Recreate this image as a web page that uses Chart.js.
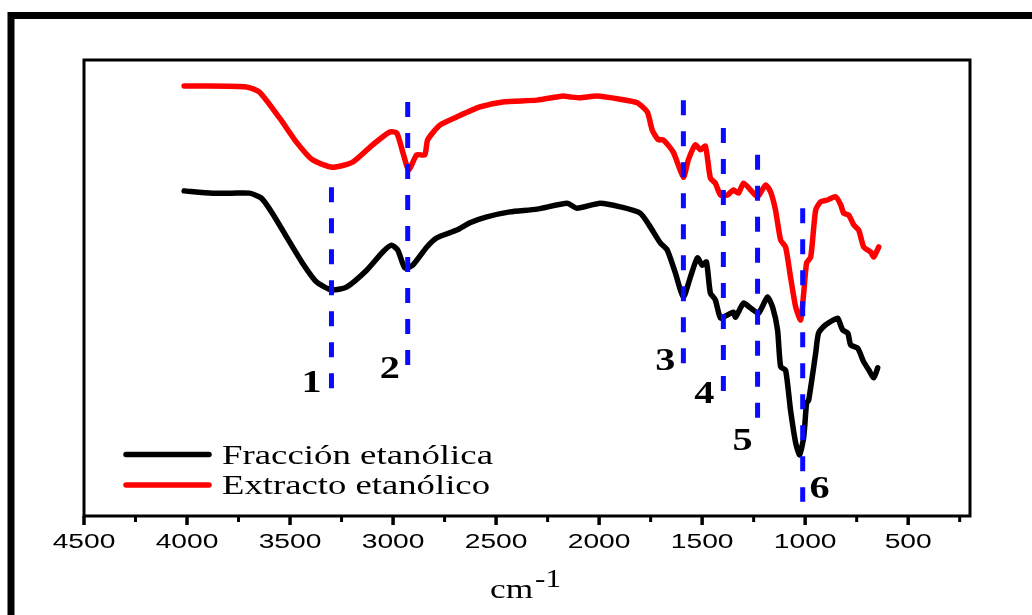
<!DOCTYPE html>
<html><head><meta charset="utf-8">
<script src="https://cdn.jsdelivr.net/npm/chart.js@4.4.0/dist/chart.umd.min.js"></script>
<style>html,body{margin:0;padding:0;background:#fff;overflow:hidden}#wrap{width:1032px;height:615px;}</style>
</head><body><div id="wrap"><canvas id="c" width="1032" height="615"></canvas></div>
<script>
// ---- data (wavenumber cm-1, transmittance a.u.) ----
const seriesNames = ['Fracción etanólica', 'Extracto etanólico'];
const fraccionWn = [4014,3877,3780,3697,3639,3586,3517,3440,3371,3299,3226,3128,3050,3007,2977,2943,2905,2836,2788,2691,2627,2545,2433,2301,2155,2107,1995,1898,1800,1752,1703,1669,1630,1591,1557,1523,1499,1479,1460,1436,1411,1377,1348,1338,1299,1265,1226,1183,1158,1134,1119,1095,1071,1046,1027,1007,993,983,949,935,901,862,842,818,793,779,745,716,691,667,648];
const fraccionT = [71.3,70.8,70.8,70.8,69.7,66.4,61.2,55.5,51.3,49.6,50.2,53.9,57.9,59.4,58.3,54.4,55.0,59.0,61.0,62.7,64.3,65.6,66.7,67.3,68.6,67.5,68.6,67.8,66.4,63.4,59.9,58.3,53.3,48.0,52.4,56.6,55.0,55.7,48.9,47.4,43.4,44.1,44.7,43.6,46.7,45.6,44.5,48.0,45.8,40.8,32.7,32.0,23.2,16.0,13.4,17.3,24.8,25.4,35.7,40.1,41.9,43.0,43.4,40.8,40.1,37.5,36.8,33.8,32.0,30.3,32.5];
const extractoWn = [4014,3941,3712,3649,3551,3469,3391,3294,3196,3099,3016,2982,2953,2924,2885,2846,2832,2773,2691,2579,2467,2301,2175,2141,2092,2010,1898,1815,1766,1742,1713,1689,1640,1591,1567,1533,1508,1484,1460,1436,1411,1377,1348,1324,1299,1265,1231,1192,1168,1144,1119,1095,1071,1046,1022,1007,993,973,949,925,891,852,827,813,789,764,740,716,682,667,643];
const extractoT = [94.3,94.3,94.1,93.0,87.3,82.0,78.1,76.5,77.6,81.4,84.2,84.0,79.8,75.9,79.2,79.2,82.5,85.7,87.5,89.7,90.8,91.2,92.1,91.9,91.7,92.1,91.4,90.6,88.6,84.6,82.5,82.5,79.8,74.3,78.1,81.4,80.3,81.1,74.1,73.0,70.4,70.4,71.5,70.8,73.0,71.5,70.0,72.6,71.1,67.1,60.5,59.0,52.4,45.8,43.0,48.9,55.5,56.8,67.1,68.9,69.3,70.0,68.2,66.4,66.0,63.8,62.7,59.0,57.9,56.8,59.0];
// marked bands (dashed guides)
const peakLabels = ['1','2','3','4','5','6'];
const peakWn = [3299, 2929, 1591, 1397, 1231, 1012];
const peakTop = [72.1, 90.8, 91.2, 85.1, 79.2, 67.5];
const peakBottom = [26.1, 30.9, 32.0, 25.9, 20.0, 3.1];
const labelWn = [3396, 3016, 1679, 1489, 1304, 930];
const labelT = [27.2, 30.3, 32.0, 24.8, 14.5, 3.9];
// axis
const xMajorTicks = [4500,4000,3500,3000,2500,2000,1500,1000,500];
const xMinorTicks = [4250,3750,3250,2750,2250,1750,1250,750,250];
const axisTitle = 'cm';
const axisTitleSup = '-1';
const xMin = 200, xMax = 4500, yMin = 0, yMax = 100;

const pts = (xs, ys) => xs.map((x, i) => ({x: x, y: ys[i]}));

const guideSets = peakWn.map((w, i) => ({
  label: 'band ' + peakLabels[i],
  data: [{x: w, y: peakTop[i]}, {x: w, y: peakBottom[i]}],
  borderColor: '#0a0aff', borderWidth: 5, borderDash: [15, 16], borderCapStyle: 'butt',
  pointRadius: 0, fill: false, tension: 0, order: 0
}));

function stretchText(ctx, txt, x, y, font, sx, align) {
  ctx.save();
  ctx.font = font; ctx.textBaseline = 'alphabetic'; ctx.textAlign = 'left';
  const w = ctx.measureText(txt).width * sx;
  const left = align === 'center' ? x - w / 2 : (align === 'right' ? x - w : x);
  ctx.translate(left, y); ctx.scale(sx, 1);
  ctx.fillText(txt, 0, 0);
  ctx.restore();
  return w;
}
function fitText(ctx, txt, x, y, font, targetW) {
  ctx.save(); ctx.font = font;
  const sx = targetW / ctx.measureText(txt).width;
  ctx.restore();
  return stretchText(ctx, txt, x, y, font, sx, 'left');
}

const decor = {
  id: 'decor',
  beforeDraw(chart) {
    const ctx = chart.ctx;
    ctx.save();
    ctx.fillStyle = '#ffffff';
    ctx.fillRect(0, 0, chart.width, chart.height);
    ctx.restore();
  },
  afterDatasetsDraw(chart) {
    const ctx = chart.ctx, a = chart.chartArea;
    const xs = chart.scales.x, ys = chart.scales.y;
    ctx.save();
    // outer frame
    ctx.strokeStyle = '#000'; ctx.lineWidth = 7;
    ctx.strokeRect(11, 15.5, 1200, 800);
    // plot box
    ctx.lineWidth = 3;
    ctx.strokeRect(a.left, a.top, a.right - a.left, a.bottom - a.top);
    // ticks
    ctx.lineWidth = 3.5;
    xMajorTicks.forEach(v => {
      const px = xs.getPixelForValue(v);
      ctx.beginPath(); ctx.moveTo(px, a.bottom); ctx.lineTo(px, a.bottom + 9); ctx.stroke();
    });
    ctx.lineWidth = 3;
    xMinorTicks.forEach(v => {
      const px = xs.getPixelForValue(v);
      ctx.beginPath(); ctx.moveTo(px, a.bottom); ctx.lineTo(px, a.bottom + 6); ctx.stroke();
    });
    // tick labels
    ctx.fillStyle = '#000';
    xMajorTicks.forEach(v => {
      const px = xs.getPixelForValue(v);
      stretchText(ctx, String(v), px, a.bottom + 32, '20px "Liberation Sans", Arial, sans-serif', 1.41, 'center');
    });
    // axis title
    const serif = '"Liberation Serif", "Times New Roman", serif';
    const cx = (a.left + a.right) / 2;
    const wcm = stretchText(ctx, axisTitle, cx - 37, a.bottom + 82, '28px ' + serif, 1.26, 'left');
    stretchText(ctx, axisTitleSup, cx - 37 + wcm + 2, a.bottom + 71, '26px ' + serif, 1.2, 'left');
    // legend
    const legColors = ['#000000', '#ff0000'];
    const legY = [454.5, 485];
    const legBase = [463.5, 493.5];
    const legW = [271, 268];
    seriesNames.forEach((n, i) => {
      ctx.strokeStyle = legColors[i]; ctx.lineWidth = 5.5; ctx.lineCap = 'round';
      ctx.beginPath(); ctx.moveTo(126, legY[i]); ctx.lineTo(209, legY[i]); ctx.stroke();
      ctx.fillStyle = '#000';
      fitText(ctx, n, 222, legBase[i], '27px ' + serif, legW[i]);
    });
    // band numbers
    ctx.fillStyle = '#000';
    peakLabels.forEach((t, i) => {
      const px = xs.getPixelForValue(labelWn[i]);
      const py = ys.getPixelForValue(labelT[i]);
      stretchText(ctx, t, px, py, 'bold 31px ' + serif, 1.3, 'center');
    });
    ctx.restore();
  }
};

new Chart(document.getElementById('c'), {
  type: 'line',
  data: {
    datasets: guideSets.concat([
      { label: seriesNames[1], data: pts(extractoWn, extractoT), borderColor: '#ff0000', borderWidth: 5.5,
        pointRadius: 0, fill: false, tension: 0.2, order: 1, borderJoinStyle: 'round', borderCapStyle: 'round' },
      { label: seriesNames[0], data: pts(fraccionWn, fraccionT), borderColor: '#000000', borderWidth: 5.5,
        pointRadius: 0, fill: false, tension: 0.2, order: 2, borderJoinStyle: 'round', borderCapStyle: 'round' }
    ])
  },
  options: {
    responsive: false, animation: false, devicePixelRatio: 1,
    layout: { padding: { left: 84, right: 62, top: 60, bottom: 99 } },
    plugins: { legend: { display: false }, tooltip: { enabled: false } },
    scales: {
      x: { type: 'linear', reverse: true, min: xMin, max: xMax, display: false },
      y: { type: 'linear', min: yMin, max: yMax, display: false }
    }
  },
  plugins: [decor]
});
</script>
</body></html>
